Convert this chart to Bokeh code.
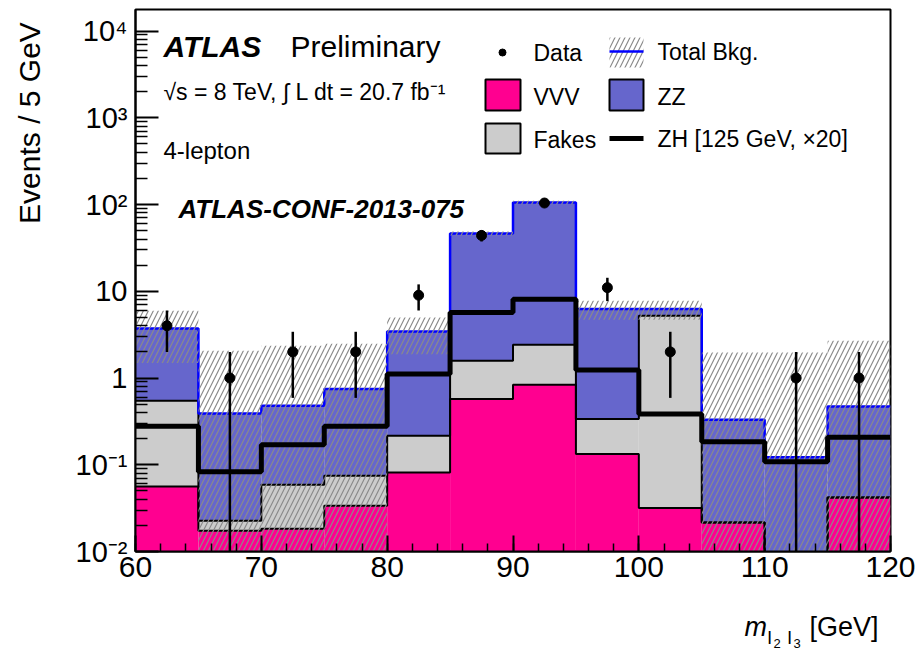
import math
from bokeh.plotting import figure
from bokeh.layouts import column, row
from bokeh.models import Range1d, Label, SingleIntervalTicker, FixedTicker, CustomJSTickFormatter
from bokeh.core.properties import value
from bokeh.embed import file_html
from bokeh.resources import INLINE

# ---------------- data ----------------
edges = [60, 65, 70, 75, 80, 85, 90, 95, 100, 105, 110, 115, 120]
vvv = [0.056, 0.0174, 0.0183, 0.0337, 0.0816, 0.573, 0.837, 0.133, 0.0317, 0.0216, 0.005, 0.042]
fakes = [0.492, 0.0052, 0.0407, 0.0411, 0.134, 1.007, 1.583, 0.204, 5.198, 0.0, 0.0, 0.0]
zz = [3.18, 0.368, 0.421, 0.672, 3.22, 44.8, 103.3, 5.90, 1.01, 0.308, 0.117, 0.428]
zh_x20 = [0.277, 0.083, 0.17, 0.277, 1.11, 5.7, 8.1, 1.24, 0.385, 0.184, 0.108, 0.207]
bkg_err = [2.24, 1.67, 1.88, 1.74, 1.56, 2.5, 5.0, 1.54, 1.54, 1.64, 1.85, 2.22]
data = [4, 1, 2, 2, 9, 44, 104, 11, 2, 0, 1, 1]
data_err = [2.0, 1.0, 1.41, 1.41, 3.0, 6.6, 10.2, 3.3, 1.41, 0.0, 1.0, 1.0]

y_major = [0.01, 0.1, 1, 10, 100, 1000, 10000]
x_ticks_interval = 10

# ---------------- layout (page pixels) ----------------
W, H = 920, 650
LEFT_W = 60          # left text strip
BOT_H = 50           # bottom text strip
FL, FR, FT, FB = 135, 890, 9, 551
YMIN = 0.01
DEC_PX = 86.75
YMAX = YMIN * 10 ** ((FB - FT) / DEC_PX)
FLOOR = 1e-4
FONT = "Liberation Sans"

C_VVV = "#FF0090"
C_FAK = "#CCCCCC"
C_ZZ = "#6666CC"
C_TOT = "#0000FF"
C_HATCH = "#8a8a8a"


def px2x(px):
    return 60 + (px - FL) * 60.0 / (FR - FL)


def py2y(py):
    return YMIN * 10 ** ((FB - py) / DEC_PX)


p = figure(width=W - LEFT_W, height=H - BOT_H, y_axis_type="log",
           x_range=Range1d(60, 120), y_range=Range1d(YMIN, YMAX),
           output_backend="svg", toolbar_location=None, title_location=None,
           min_border_left=FL - LEFT_W, min_border_right=W - FR,
           min_border_top=FT, min_border_bottom=H - BOT_H - FB)
p.background_fill_color = "white"
p.border_fill_color = "white"
p.outline_line_color = "black"
p.outline_line_width = 2
p.xgrid.visible = False
p.ygrid.visible = False

n = len(edges) - 1
left = edges[:-1]
right = edges[1:]
centers = [(a + b) / 2 for a, b in zip(left, right)]
top_vvv = vvv[:]
top_fak = [a + b for a, b in zip(top_vvv, fakes)]
top_tot = [a + b for a, b in zip(top_fak, zz)]

# stacked fills
p.quad(left=left, right=right, bottom=[FLOOR] * n, top=top_vvv, fill_color=C_VVV, line_color=None)
p.quad(left=left, right=right, bottom=top_vvv, top=top_fak, fill_color=C_FAK, line_color=None)
p.quad(left=left, right=right, bottom=top_fak, top=top_tot, fill_color=C_ZZ, line_color=None)

# outlines
p.step(x=edges, y=top_vvv + [top_vvv[-1]], mode="after", line_color="black", line_width=2)
p.step(x=edges, y=top_fak + [top_fak[-1]], mode="after", line_color="black", line_width=2)
p.step(x=edges, y=top_tot + [top_tot[-1]], mode="after", line_color=C_TOT, line_width=2.5)

# uncertainty band
p.quad(left=left, right=right,
       bottom=[max(t - e, FLOOR) for t, e in zip(top_tot, bkg_err)],
       top=[t + e for t, e in zip(top_tot, bkg_err)],
       fill_alpha=0, line_color=None,
       hatch_pattern="right_diagonal_line", hatch_color=C_HATCH,
       hatch_scale=10, hatch_weight=1.2)

# ZH signal
p.step(x=edges, y=zh_x20 + [zh_x20[-1]], mode="after", line_color="black", line_width=5)

# data
dx = [c for c, d in zip(centers, data) if d > 0]
dy = [d for d in data if d > 0]
de = [e for d, e in zip(data, data_err) if d > 0]
p.segment(x0=dx, x1=dx, y0=[max(y - e, FLOOR) for y, e in zip(dy, de)],
          y1=[y + e for y, e in zip(dy, de)], line_color="black", line_width=2.5)
p.scatter(x=dx, y=dy, size=10, fill_color="black", line_color="black")

# ---------------- axes ----------------
p.xaxis.ticker = SingleIntervalTicker(interval=x_ticks_interval, num_minor_ticks=5)
minor = [m * 10 ** k for k in range(-2, 5) for m in range(2, 10)]
p.yaxis.ticker = FixedTicker(ticks=y_major, minor_ticks=minor)
p.yaxis.formatter = CustomJSTickFormatter(code="""
const e = Math.round(Math.log10(tick));
if (e == 0) return "1";
if (e == 1) return "10";
const sup = {"-": "\u207B", "0": "\u2070", "1": "\u00B9", "2": "\u00B2", "3": "\u00B3",
             "4": "\u2074", "5": "\u2075", "6": "\u2076", "7": "\u2077", "8": "\u2078", "9": "\u2079"};
return "10" + String(e).split("").map(c => sup[c]).join("");
""")
for ax in (p.xaxis, p.yaxis):
    ax.axis_line_width = 2
    ax.axis_line_color = "black"
    ax.major_tick_out = 0
    ax.minor_tick_out = 0
    ax.major_tick_line_width = 2
    ax.minor_tick_line_width = 1.5
    ax.major_label_text_font = FONT
    ax.major_label_text_color = "black"
p.xaxis.major_label_text_font_size = "30px"
p.yaxis.major_label_text_font_size = "29px"
p.xaxis.major_tick_in = 16
p.xaxis.minor_tick_in = 8
p.yaxis.major_tick_in = 23
p.yaxis.minor_tick_in = 12
p.xaxis.major_label_standoff = 5
p.yaxis.major_label_standoff = 8


def lab(text, px, py, size, style="normal", align="left", baseline="alphabetic"):
    p.add_layout(Label(x=px2x(px), y=py2y(py), text=text, text_font=FONT,
                       text_font_size=size, text_font_style=style, text_align=align,
                       text_baseline=baseline, text_color="black"))


# plot texts
lab("ATLAS", 163, 46, "30px", style="bold italic")
lab("Preliminary", 290, 46, "30px")
lab("\u221As = 8 TeV, \u222B L dt = 20.7 fb\u207B\u00B9", 163, 91, "23px")
lab("4-lepton", 163, 150, "24px")
lab("ATLAS-CONF-2013-075", 178, 208, "26px", style="bold italic")

# legend
p.scatter(x=[px2x(502)], y=[py2y(52)], size=7, fill_color="black", line_color="black")
for (x0, x1, y0, y1, col) in [(485, 520, 79, 110, C_VVV), (485, 520, 123, 153, C_FAK),
                              (609, 643, 79, 110, C_ZZ)]:
    p.quad(left=[px2x(x0)], right=[px2x(x1)], bottom=[py2y(y1)], top=[py2y(y0)],
           fill_color=col, line_color="black", line_width=2)
p.quad(left=[px2x(609)], right=[px2x(643)], bottom=[py2y(67)], top=[py2y(37)],
       fill_alpha=0, line_color=None, hatch_pattern="right_diagonal_line",
       hatch_color=C_HATCH, hatch_scale=10, hatch_weight=1.2)
p.line(x=[px2x(609), px2x(643)], y=[py2y(51), py2y(51)], line_color=C_TOT, line_width=2.5)
p.line(x=[px2x(609), px2x(643)], y=[py2y(138), py2y(138)], line_color="black", line_width=5)
lab("Data", 533, 52, "23px", baseline="middle")
lab("VVV", 533, 96, "23px", baseline="middle")
lab("Fakes", 533, 139, "23px", baseline="middle")
lab("Total Bkg.", 657, 51, "23px", baseline="middle")
lab("ZZ", 657, 96, "23px", baseline="middle")
lab("ZH [125 GeV, \u00D720]", 657, 138, "23px", baseline="middle")


# ---------------- text strips for the axis titles ----------------
def text_canvas(w, h):
    f = figure(width=w, height=h, x_range=Range1d(0, w), y_range=Range1d(0, h),
               output_backend="svg", toolbar_location=None, title_location=None,
               x_axis_location=None, y_axis_location=None,
               min_border=0, min_border_left=0, min_border_right=0,
               min_border_top=0, min_border_bottom=0)
    f.outline_line_color = None
    f.background_fill_color = "white"
    f.border_fill_color = "white"
    f.xgrid.visible = False
    f.ygrid.visible = False
    return f


LH = H - BOT_H
lc = text_canvas(LEFT_W, LH)
lc.text(x=[29], y=[LH - 14], text=["Events / 5 GeV"], text_font=value(FONT),
        text_font_size=value("30px"), text_align="right", text_baseline="middle",
        angle=math.pi / 2, text_color="black")

bc = text_canvas(W, BOT_H)
y0 = H - BOT_H


def btext(t, px, py, size, style="normal"):
    bc.text(x=[px], y=[BOT_H - (py - y0)], text=[t], text_font=value(FONT),
            text_font_size=value(size), text_font_style=value(style),
            text_align="left", text_baseline="alphabetic", text_color="black")


btext("m", 744, 626, "27px", "italic")
btext("l", 767, 637, "19px")
btext("2", 773, 643, "13px")
btext("l", 787, 637, "19px")
btext("3", 793, 643, "13px")
btext("[GeV]", 809, 626, "27px")

layout = column(row(lc, p, spacing=0), bc, spacing=0)
open("out.html", "w").write(file_html(layout, INLINE))
